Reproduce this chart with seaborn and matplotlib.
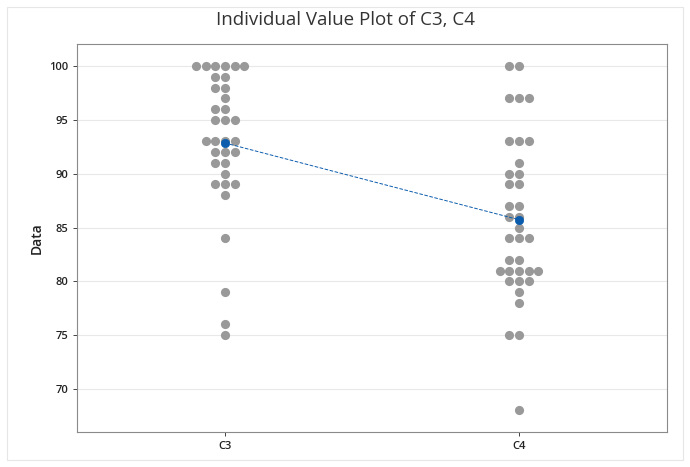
import numpy as np
import pandas as pd
import matplotlib
matplotlib.use("Agg")
import matplotlib.pyplot as plt
import seaborn as sns
from matplotlib.patches import Rectangle

categories = ["C3", "C4"]
c3_values = [100]*6 + [99]*2 + [98]*2 + [97] + [96]*2 + [95]*3 + [93]*4 + [92]*3 + [91]*2 + [90] + [89]*3 + [88] + [84] + [79] + [76] + [75]
c4_values = [100]*2 + [97]*3 + [93]*3 + [91] + [90]*2 + [89]*2 + [87]*2 + [86]*2 + [85] + [84]*3 + [82]*2 + [81]*5 + [80]*3 + [79] + [78] + [75]*2 + [68]
yticks = [70, 75, 80, 85, 90, 95, 100]

df = pd.DataFrame({
    "Group": ["C3"]*len(c3_values) + ["C4"]*len(c4_values),
    "Data": c3_values + c4_values,
})

sns.set_theme(style="white")
plt.rcParams['font.family'] = ['Open Sans', 'DejaVu Sans']

fig = plt.figure(figsize=(6.9, 4.67), dpi=100)
ax = fig.add_axes([77/690, 35/467, 590/690, 388/467])

ax.set_axisbelow(True)
ax.grid(True, color="#e8e8e8", linewidth=0.8)

sns.swarmplot(data=df, x="Group", y="Data", order=categories, color="#999999",
              size=6.6, ax=ax, zorder=3, linewidth=0)
sns.pointplot(data=df, x="Group", y="Data", order=categories, errorbar=None,
              color="#0b5cad", markers="o", markersize=6, linestyles="--",
              linewidth=0.7, ax=ax, zorder=5)

ax.set_ylim(66, 102.05)
ax.set_xlim(-0.503, 1.503)
ax.set_yticks(yticks)
ax.set_yticklabels([str(t) for t in yticks], fontsize=8, color="#222222", fontweight="semibold")
for lbl in ax.get_xticklabels():
    lbl.set_fontweight("semibold")
ax.tick_params(axis="x", labelsize=8, colors="#222222", length=3, width=0.6)
ax.tick_params(axis="y", length=3, width=0.6, left=True)
ax.tick_params(axis="x", bottom=True)
ax.set_xlabel("")
ax.set_ylabel("Data", fontsize=10, color="#222222", fontweight="semibold")
for s in ax.spines.values():
    s.set_color("#8a8a8a")
    s.set_linewidth(0.8)

fig.text(0.5, 1 - 20/467, "Individual Value Plot of C3, C4", ha="center", va="center",
         fontsize=13.5, color="#333333")

fig.patches.append(Rectangle((7/690, 7/467), 676/690, 453/467, transform=fig.transFigure,
                             fill=False, edgecolor="#e6e6e6", linewidth=0.8))

fig.savefig("out.png", dpi=100)
